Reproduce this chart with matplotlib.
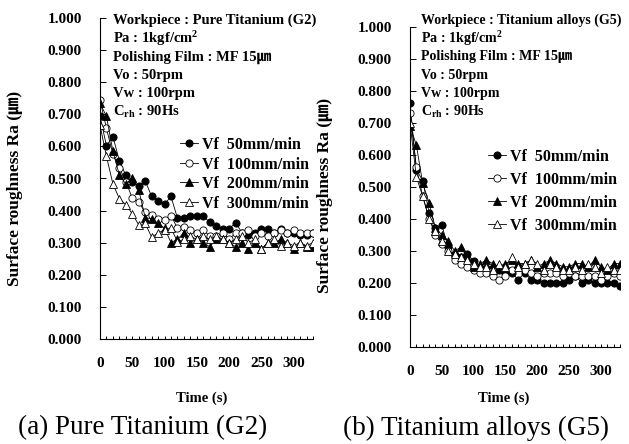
import numpy as np
import matplotlib
matplotlib.use("Agg")
import matplotlib.pyplot as plt

plt.rcParams['font.family'] = ['Liberation Serif', 'Noto Sans CJK JP', 'DejaVu Sans']
plt.rcParams['mathtext.fontset'] = 'custom'
plt.rcParams['mathtext.rm'] = 'Liberation Serif:bold'
plt.rcParams['mathtext.bf'] = 'Liberation Serif:bold'
plt.rcParams['mathtext.it'] = 'Liberation Serif:bold'

time_s = np.arange(0, 331, 10)

labels = ["Vf  50mm/min", "Vf  100mm/min", "Vf  200mm/min", "Vf  300mm/min"]

g2_vf50 = [0.695, 0.602, 0.631, 0.555, 0.510, 0.490, 0.478, 0.493, 0.444, 0.430, 0.420, 0.444,
           0.376, 0.376, 0.383, 0.383, 0.383, 0.363, 0.352, 0.343, 0.343, 0.362, 0.331, 0.324,
           0.331, 0.343, 0.343, 0.331, 0.343, 0.331, 0.331, 0.324, 0.324, 0.331]
g2_vf100 = [0.744, 0.657, 0.575, 0.534, 0.490, 0.439, 0.426, 0.395, 0.387, 0.374, 0.370, 0.384,
            0.345, 0.350, 0.340, 0.330, 0.340, 0.320, 0.320, 0.330, 0.310, 0.330, 0.330, 0.340,
            0.320, 0.330, 0.320, 0.330, 0.340, 0.330, 0.340, 0.330, 0.330, 0.330]
g2_vf200 = [0.735, 0.694, 0.585, 0.511, 0.482, 0.503, 0.465, 0.378, 0.374, 0.360, 0.345, 0.300,
            0.310, 0.331, 0.300, 0.310, 0.300, 0.287, 0.310, 0.310, 0.300, 0.287, 0.300, 0.279,
            0.300, 0.279, 0.300, 0.300, 0.310, 0.300, 0.279, 0.300, 0.287, 0.287]
g2_vf300 = [0.666, 0.569, 0.483, 0.437, 0.418, 0.390, 0.355, 0.360, 0.317, 0.330, 0.340, 0.345,
            0.303, 0.310, 0.320, 0.310, 0.320, 0.310, 0.320, 0.310, 0.300, 0.310, 0.320, 0.300,
            0.310, 0.280, 0.300, 0.310, 0.288, 0.300, 0.290, 0.300, 0.290, 0.300]

g5_vf50 = [0.760, 0.553, 0.519, 0.419, 0.372, 0.379, 0.312, 0.282, 0.280, 0.290, 0.268, 0.242,
           0.245, 0.230, 0.240, 0.230, 0.230, 0.210, 0.230, 0.210, 0.210, 0.200, 0.200, 0.200,
           0.200, 0.210, 0.220, 0.200, 0.210, 0.200, 0.200, 0.200, 0.200, 0.190]
g5_vf100 = [0.730, 0.560, 0.470, 0.400, 0.350, 0.320, 0.300, 0.270, 0.260, 0.250, 0.240, 0.230,
            0.230, 0.220, 0.210, 0.220, 0.240, 0.250, 0.240, 0.230, 0.220, 0.230, 0.230, 0.230,
            0.220, 0.230, 0.220, 0.220, 0.220, 0.220, 0.210, 0.220, 0.230, 0.220]
g5_vf200 = [0.690, 0.630, 0.510, 0.450, 0.370, 0.350, 0.330, 0.300, 0.310, 0.280, 0.250, 0.260,
            0.270, 0.260, 0.250, 0.260, 0.270, 0.260, 0.260, 0.270, 0.250, 0.260, 0.270, 0.260,
            0.250, 0.250, 0.260, 0.260, 0.250, 0.270, 0.250, 0.240, 0.260, 0.260]
g5_vf300 = [0.700, 0.530, 0.470, 0.400, 0.360, 0.330, 0.300, 0.290, 0.280, 0.270, 0.260, 0.250,
            0.250, 0.240, 0.260, 0.250, 0.280, 0.250, 0.260, 0.270, 0.260, 0.240, 0.260, 0.250,
            0.240, 0.240, 0.250, 0.240, 0.260, 0.250, 0.230, 0.250, 0.240, 0.240]

annot_g2 = ["Workpiece : Pure Titanium (G2)", "Pa : 1kgf/cm$^{2}$", "Polishing Film : MF 15㎛",
            "Vo : 50rpm", "Vw : 100rpm", r"C$_{\mathbf{rh}}$ : 90Hs"]
annot_g5 = ["Workpiece : Titanium alloys (G5)", "Pa : 1kgf/cm$^{2}$", "Polishing Film : MF 15㎛",
            "Vo : 50rpm", "Vw : 100rpm", r"C$_{\mathbf{rh}}$ : 90Hs"]

W, H = 629, 444
fig = plt.figure(figsize=(W / 100, H / 100), dpi=100)


def fx(px):
    return px / W


def fy(py):
    return 1 - py / H


styles = [dict(marker='o', mfc='black'), dict(marker='o', mfc='white'),
          dict(marker='^', mfc='black'), dict(marker='^', mfc='white')]


def make_panel(rect, series, annot, annot_xy, annot_fs, leg_anchor, leg_spacing, ylab_xy, xlab_xy,
               caption, cap_xy):
    ax = fig.add_axes(rect)
    for vals, st, lab in zip(series, styles, labels):
        ax.plot(time_s, vals, color='black', lw=0.6, ms=5.2, mec='black', mew=0.6,
                label=lab, **st)
    ax.set_xlim(0, 330)
    ax.set_ylim(0, 1.0)
    ax.set_yticks(np.arange(0, 1.01, 0.1))
    ax.set_yticklabels([f"{v:.3f}" for v in np.arange(0, 1.01, 0.1)],
                       fontsize=11, fontweight='bold')
    ax.set_xticks(time_s)
    ax.set_xticklabels([str(t) if t % 50 == 0 else '' for t in time_s],
                       fontsize=11, fontweight='bold')
    ax.tick_params(axis='y', direction='in', length=4, width=0.7, pad=13)
    ax.tick_params(axis='x', direction='in', length=2.5, width=0.7, pad=13)
    for s in ['top', 'right']:
        ax.spines[s].set_visible(False)
    for s in ['left', 'bottom']:
        ax.spines[s].set_linewidth(0.8)
    ax.patch.set_alpha(0)
    ax.legend(loc='upper left', bbox_to_anchor=leg_anchor, bbox_transform=fig.transFigure,
              frameon=False, handlelength=1.15, handletextpad=0.2, borderpad=0,
              borderaxespad=0, labelspacing=leg_spacing,
              prop={'family': 'Liberation Serif', 'weight': 'bold', 'size': 11.5})
    for i, line in enumerate(annot):
        fig.text(fx(annot_xy[0]), fy(annot_xy[1] + i * 18.2), line, fontsize=annot_fs,
                 fontweight='bold', ha='left', va='center')
    fig.text(fx(ylab_xy[0]), fy(ylab_xy[1]), "Surface roughness Ra (㎛)", rotation=90,
             fontsize=12.5, fontweight='bold', ha='center', va='center')
    fig.text(fx(xlab_xy[0]), fy(xlab_xy[1]), "Time (s)", fontsize=10.5, fontweight='bold',
             ha='center', va='center')
    fig.text(fx(cap_xy[0]), fy(cap_xy[1]), caption, fontsize=19.5, ha='center', va='center')
    return ax


make_panel([fx(100), fy(338.7), fx(313) - fx(100), fy(18.3) - fy(338.7)],
           [g2_vf50, g2_vf100, g2_vf200, g2_vf300], annot_g2, (113, 20.5), 10.5,
           (fx(180), fy(137)), 0.22, (15, 188), (202, 398),
           "(a) Pure Titanium (G2)", (143, 428))
make_panel([fx(410), fy(346.7), fx(620) - fx(410), fy(26.7) - fy(346.7)],
           [g5_vf50, g5_vf100, g5_vf200, g5_vf300], annot_g5, (421, 20.5), 10.1,
           (fx(488), fy(149)), 0.44, (325, 195), (504, 398),
           "(b) Titanium alloys (G5)", (476, 428))

fig.savefig("out.png", dpi=100)
